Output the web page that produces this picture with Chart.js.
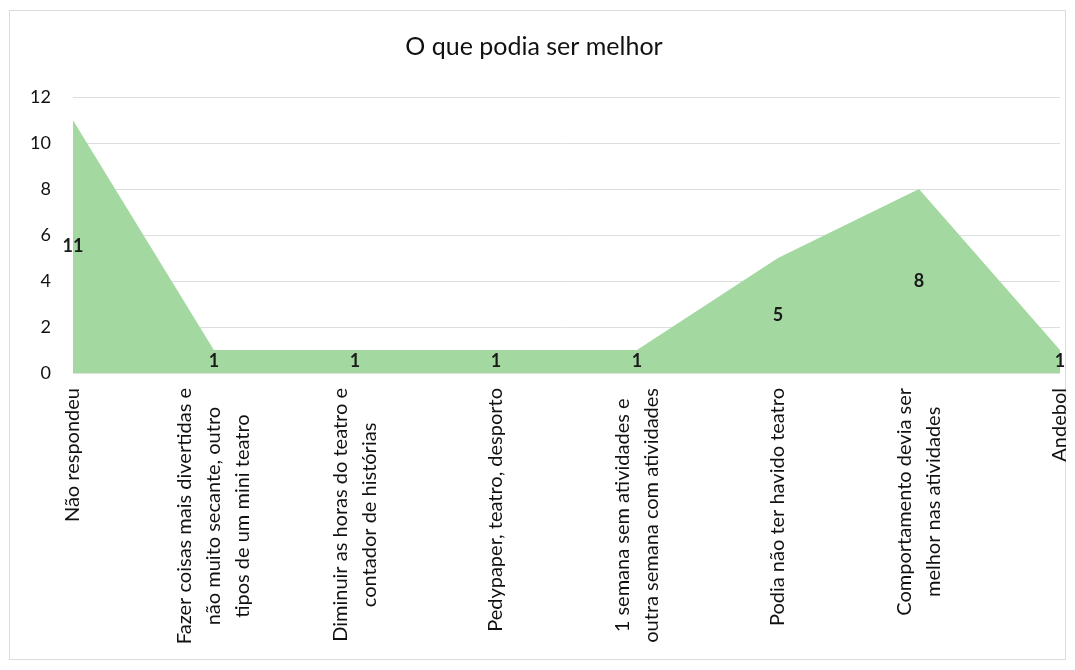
<!DOCTYPE html>
<html lang="pt">
<head>
    <meta charset="UTF-8">
    <title>O que podia ser melhor</title>
    <style>
        body { margin: 0; background: #fff; }
        #areaChart { display: block; }
    </style>
</head>
<body>
<canvas id="areaChart" width="1075" height="670"></canvas>

<script src="https://cdn.jsdelivr.net/npm/chart.js"></script>
<script>
// categories (each one split into the lines shown under the axis)
var categories = [
    ['Não respondeu'],
    ['Fazer coisas mais divertidas e', 'não muito secante, outro', 'tipos de um mini teatro'],
    ['Diminuir as horas do teatro e', 'contador de histórias'],
    ['Pedypaper, teatro, desporto'],
    ['1 semana sem atividades e', 'outra semana com atividades'],
    ['Podia não ter havido teatro'],
    ['Comportamento devia ser', 'melhor nas atividades'],
    ['Andebol']
];
var answers = [11, 1, 1, 1, 1, 5, 8, 1];
var yMin = 0, yMax = 12, yStep = 2;

var FONT = 'Lato, "Open Sans", sans-serif';

// white background + thin frame
var framePlugin = {
    id: 'frame',
    beforeDraw: function(chart) {
        var c = chart.ctx;
        c.save();
        c.fillStyle = '#fff';
        c.fillRect(0, 0, chart.width, chart.height);
        c.strokeStyle = '#dcdcdc';
        c.lineWidth = 1;
        c.strokeRect(9.5, 10.5, chart.width - 19, chart.height - 21);
        c.restore();
    }
};

// rotated category labels, lines centred on each other like the original
var rotatedLabels = {
    id: 'rotatedLabels',
    afterDraw: function(chart) {
        var c = chart.ctx;
        var xs = chart.scales.x;
        var top = chart.chartArea.bottom + 15;
        var lh = 29;
        c.save();
        c.font = '20px ' + FONT;
        c.fillStyle = '#111';
        c.textAlign = 'center';
        c.textBaseline = 'middle';
        categories.forEach(function(lines, i) {
            var px = xs.getPixelForValue(i);
            var maxW = 0;
            lines.forEach(function(l) { maxW = Math.max(maxW, c.measureText(l).width); });
            c.save();
            c.translate(px, top);
            c.rotate(-Math.PI / 2);
            lines.forEach(function(l, j) {
                c.fillText(l, -maxW / 2, (j - (lines.length - 1) / 2) * lh);
            });
            c.restore();
        });
        c.restore();
    }
};

// value labels sit halfway up each point
var valueLabels = {
    id: 'valueLabels',
    afterDatasetsDraw: function(chart) {
        var c = chart.ctx;
        var meta = chart.getDatasetMeta(0);
        var ys = chart.scales.y;
        c.save();
        c.font = 'bold 18px ' + FONT;
        c.fillStyle = '#1a1a1a';
        c.textAlign = 'center';
        c.textBaseline = 'middle';
        answers.forEach(function(v, i) {
            c.fillText(String(v), meta.data[i].x, ys.getPixelForValue(v / 2));
        });
        c.restore();
    }
};

var chart = new Chart(document.getElementById('areaChart'), {
    type: 'line',
    data: {
        labels: categories,
        datasets: [{
            label: 'O que podia ser melhor',
            data: answers,
            fill: 'origin',
            backgroundColor: '#a3d9a0',
            borderWidth: 0,
            pointRadius: 0,
            tension: 0
        }]
    },
    options: {
        responsive: false,
        animation: false,
        layout: {
            padding: { left: 8, right: 15, top: 0, bottom: 297 }
        },
        scales: {
            x: {
                display: false
            },
            y: {
                min: yMin,
                max: yMax,
                border: { display: false },
                grid: { color: '#dedede', drawTicks: false },
                ticks: {
                    stepSize: yStep,
                    padding: 22,
                    color: '#111',
                    font: { size: 18, family: FONT }
                }
            }
        },
        plugins: {
            legend: { display: false },
            tooltip: { enabled: false },
            title: {
                display: true,
                text: 'O que podia ser melhor',
                color: '#111',
                font: { size: 25, weight: 'normal', family: FONT },
                padding: { top: 32, bottom: 35 }
            }
        }
    },
    plugins: [framePlugin, valueLabels, rotatedLabels]
});
</script>
</body>
</html>
